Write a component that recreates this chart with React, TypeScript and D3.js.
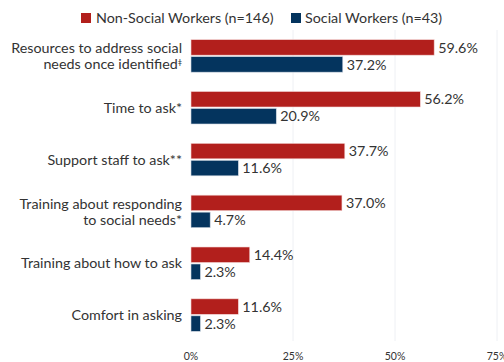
import React from "react";
import * as d3 from "d3";

const categories = [
  ["Resources to address social", "needs once identified"],
  ["Time to ask*"],
  ["Support staff to ask**"],
  ["Training about responding", "to social needs*"],
  ["Training about how to ask"],
  ["Comfort in asking"],
];
const superscripts = ["ǂ", "", "", "", "", ""];
const nonSocial = [59.6, 56.2, 37.7, 37.0, 14.4, 11.6];
const social = [37.2, 20.9, 11.6, 4.7, 2.3, 2.3];
const seriesNames = ["Non-Social Workers (n=146)", "Social Workers (n=43)"];
const ticks = [0, 25, 50, 75];

const RED = "#B21F1C";
const NAVY = "#04345E";
const FONT = "Lato, 'Open Sans', sans-serif";

export default function App() {
  const W = 504, H = 362;
  const x = d3.scaleLinear().domain([0, 75]).range([191, 497]);
  const y = d3.scaleBand<number>().domain(d3.range(categories.length)).range([30, 341]).paddingInner(0.34).paddingOuter(0.17);
  const bh = 15.5, gap = 1.5;
  const fs = 14.3;
  return (
    <svg width={W} height={H} style={{ position: "absolute", left: 0, top: 0 }} fontFamily={FONT}>
      {ticks.slice(1).map((t) => (
        <line key={t} x1={x(t)} x2={x(t)} y1={30} y2={341} stroke="#eef0f4" strokeWidth={1} />
      ))}
      {ticks.map((t) => (
        <text key={t} x={x(t)} y={360} fontSize={10.5} textAnchor="middle" fill="#333">{t}%</text>
      ))}
      {/* legend */}
      <rect x={81} y={13} width={10} height={10} fill={RED} />
      <text x={96} y={22.5} fontSize={fs} fill="#333">{seriesNames[0]}</text>
      <rect x={291} y={13} width={10} height={10} fill={NAVY} />
      <text x={305} y={22.5} fontSize={fs} fill="#333">{seriesNames[1]}</text>
      {categories.map((lines, i) => {
        const c = (y(i) as number) + y.bandwidth() / 2;
        const ry = c - gap / 2 - bh;
        const by = c + gap / 2;
        const lh = 16;
        const startY = c - ((lines.length - 1) * lh) / 2;
        return (
          <g key={i}>
            <rect x={x(0)} y={ry} width={x(nonSocial[i]) - x(0)} height={bh} fill={RED} stroke="#f3d6d5" strokeWidth={0.6} />
            <rect x={x(0)} y={by} width={x(social[i]) - x(0)} height={bh} fill={NAVY} stroke="#d0d8e2" strokeWidth={0.6} />
            <text x={x(nonSocial[i]) + 4} y={ry + bh / 2} dy="0.36em" fontSize={fs} fill="#333">{nonSocial[i].toFixed(1)}%</text>
            <text x={x(social[i]) + 4} y={by + bh / 2} dy="0.36em" fontSize={fs} fill="#333">{social[i].toFixed(1)}%</text>
            <text x={182} fontSize={fs} fill="#333" textAnchor="end">
              {lines.map((l, j) => (
                <tspan key={j} x={182} y={startY + j * lh} dy="0.36em">
                  {l}
                  {j === lines.length - 1 && superscripts[i] ? (
                    <tspan fontSize={8} dy="-0.5em">{superscripts[i]}</tspan>
                  ) : null}
                </tspan>
              ))}
            </text>
          </g>
        );
      })}
    </svg>
  );
}
